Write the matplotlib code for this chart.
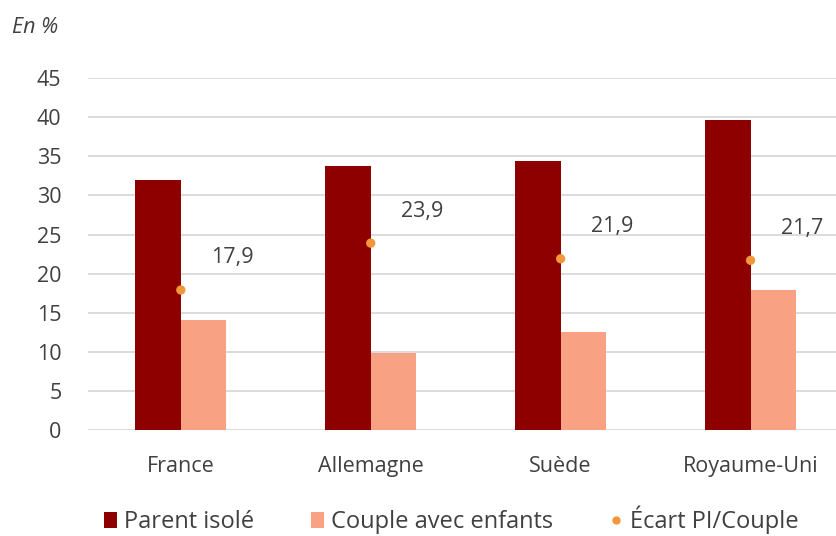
import matplotlib
matplotlib.use("Agg")
import matplotlib.pyplot as plt
import numpy as np
from matplotlib.lines import Line2D
from matplotlib.patches import Patch

plt.rcParams['font.family'] = ['Open Sans', 'DejaVu Sans']

categories = ["France", "Allemagne", "Suède", "Royaume-Uni"]
parent_isole = [32.0, 33.8, 34.4, 39.6]
couple_enfants = [14.1, 9.9, 12.5, 17.9]
ecart = [17.9, 23.9, 21.9, 21.7]
ecart_labels = ["17,9", "23,9", "21,9", "21,7"]
yticks = [0, 5, 10, 15, 20, 25, 30, 35, 40, 45]

c_parent = "#8E0000"
c_couple = "#F9A283"
c_dot = "#F2963C"
c_text = "#404040"
fs = 15.5

fig = plt.figure(figsize=(8.36, 5.36), dpi=100)
ax = fig.add_axes([0.105, 0.198, 0.895, 0.656])

x = np.arange(len(categories))
w = 0.24
ax.bar(x - w / 2, parent_isole, width=w, color=c_parent, zorder=2)
ax.bar(x + w / 2, couple_enfants, width=w, color=c_couple, zorder=2)
ax.scatter(x, ecart, s=45, color=c_dot, zorder=3, edgecolors='none')
for xi, v, lab in zip(x, ecart, ecart_labels):
    ax.text(xi + 0.27, v + 4.1, lab, ha='center', va='center', fontsize=fs, color=c_text)

ax.set_ylim(0, 45)
ax.set_xlim(-0.49, 3.45)
ax.set_yticks(yticks)
ax.set_yticklabels([str(t) for t in yticks], fontsize=fs, color=c_text)
ax.set_xticks(x)
ax.set_xticklabels(categories, fontsize=fs, color=c_text)
ax.tick_params(axis='both', length=0)
ax.tick_params(axis='y', pad=19)
ax.tick_params(axis='x', pad=19)
ax.yaxis.grid(True, color="#D9D9D9", linewidth=1.3, zorder=0)
ax.set_axisbelow(True)
for s in ax.spines.values():
    s.set_visible(False)

fig.text(0.014, 0.949, "En %", fontsize=15.5, style='italic', color=c_text, va='center')

handles = [
    Patch(facecolor=c_parent, label="Parent isolé"),
    Patch(facecolor=c_couple, label="Couple avec enfants"),
    Line2D([], [], marker='o', linestyle='none', color=c_dot, markersize=5, label="Écart PI/Couple"),
]
fig.legend(handles=handles, loc='center', bbox_to_anchor=(0.54, 0.030), ncol=3, frameon=False,
           fontsize=17, handlelength=0.55, handleheight=0.7, handletextpad=0.3, columnspacing=2.4,
           labelcolor=c_text)

fig.savefig("out.png", dpi=100)
